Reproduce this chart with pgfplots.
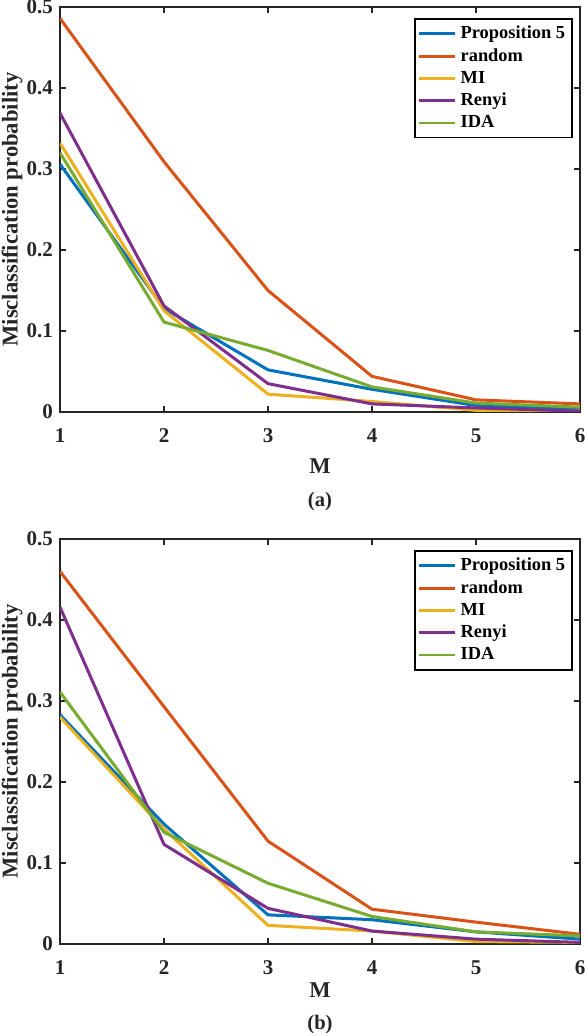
\documentclass[border=0pt]{standalone}
\usepackage{pgfplots}
\pgfplotsset{compat=1.18}
\usepackage{fontspec}
\setmainfont{Liberation Serif}
\definecolor{mblue}{rgb}{0,0.447,0.741}
\definecolor{morange}{rgb}{0.85,0.325,0.098}
\definecolor{myellow}{rgb}{0.929,0.694,0.125}
\definecolor{mpurple}{rgb}{0.494,0.184,0.556}
\definecolor{mgreen}{rgb}{0.466,0.674,0.188}
\definecolor{maxis}{rgb}{0.15,0.15,0.15}

\newcommand{\labfont}{\bfseries\fontsize{11.3}{13}\selectfont}

\pgfplotsset{
  mplot/.style={
    scale only axis,
    clip mode=individual,
    width=260pt, height=202.5pt,
    xmin=1, xmax=6, ymin=0, ymax=0.5,
    xtick={1,2,3,4,5,6},
    ytick={0,0.1,0.2,0.3,0.4,0.5},
    tick align=inside,
    major tick length=3pt,
    axis line style={maxis, line width=0.9pt},
    every tick/.style={maxis, line width=0.9pt},
    tick label style={font=\bfseries\fontsize{10.5}{12}\selectfont, text=maxis},
    xticklabel style={yshift=-5pt},
    /pgf/number format/assume math mode=true,
    ylabel={Misclassification probability},
    every axis y label/.style={at={(axis description cs:-0.092,0.5)}, rotate=90,
      anchor=center, font=\labfont, text=maxis},
    every axis plot/.append style={line width=1.5pt},
    legend cell align=left,
    legend style={at={(1,1)}, anchor=north east, xshift=-3.5pt, yshift=-5.5pt,
      draw=black, line width=0.9pt, font=\bfseries\fontsize{9.2}{11.5}\selectfont,
      inner sep=1.5pt, row sep=-0.6pt},
    legend image code/.code={\draw[#1, line width=1.3pt] (0pt,0pt) -- (18pt,0pt);},
  }
}

\begin{document}
\begin{tikzpicture}
\begin{axis}[mplot, at={(30pt,-206pt)}, anchor=south west,
  xlabel={M},
  every axis x label/.style={at={(axis description cs:0.5,-0.133)}, anchor=center,
    font=\labfont, text=maxis}]
\addplot[mblue] coordinates {(1,0.306) (2,0.128) (3,0.052) (4,0.028) (5,0.008) (6,0.004)};
\addplot[morange] coordinates {(1,0.486) (2,0.309) (3,0.150) (4,0.044) (5,0.015) (6,0.010)};
\addplot[myellow] coordinates {(1,0.332) (2,0.125) (3,0.022) (4,0.013) (5,0.002) (6,0.001)};
\addplot[mpurple] coordinates {(1,0.369) (2,0.131) (3,0.035) (4,0.010) (5,0.005) (6,0.001)};
\addplot[mgreen] coordinates {(1,0.320) (2,0.111) (3,0.076) (4,0.031) (5,0.011) (6,0.006)};
\legend{Proposition 5, random, MI, Renyi, IDA}
\node[font=\bfseries\fontsize{10.3}{12}\selectfont, text=maxis] at (axis description cs:0.5,-0.222) {(a)};
\end{axis}
\begin{axis}[mplot, at={(30pt,-472pt)}, anchor=south west,
  xlabel={M},
  every axis x label/.style={at={(axis description cs:0.5,-0.114)}, anchor=center,
    font=\labfont, text=maxis}]
\addplot[mblue] coordinates {(1,0.283) (2,0.148) (3,0.036) (4,0.030) (5,0.015) (6,0.006)};
\addplot[morange] coordinates {(1,0.460) (2,0.293) (3,0.127) (4,0.043) (5,0.027) (6,0.012)};
\addplot[myellow] coordinates {(1,0.280) (2,0.142) (3,0.023) (4,0.016) (5,0.003) (6,0.002)};
\addplot[mpurple] coordinates {(1,0.416) (2,0.123) (3,0.044) (4,0.016) (5,0.006) (6,0.002)};
\addplot[mgreen] coordinates {(1,0.311) (2,0.138) (3,0.075) (4,0.034) (5,0.015) (6,0.010)};
\legend{Proposition 5, random, MI, Renyi, IDA}
\node[font=\bfseries\fontsize{10.3}{12}\selectfont, text=maxis] at (axis description cs:0.5,-0.198) {(b)};
\end{axis}
\pgfresetboundingbox
\useasboundingbox (0pt,0pt) rectangle (292pt,-518pt);
\end{tikzpicture}
\end{document}
